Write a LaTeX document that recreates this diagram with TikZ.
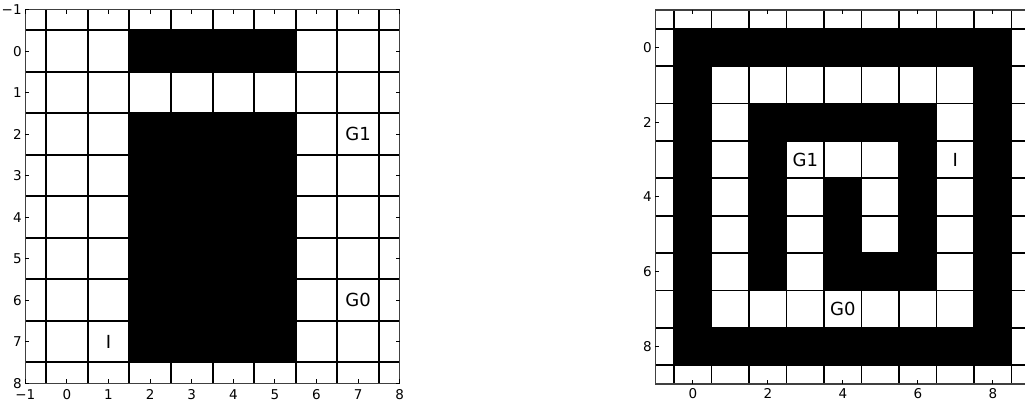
\documentclass[tikz,border=0pt]{standalone}
\usepackage{fontspec}
\setmainfont{DejaVu Sans}
\begin{document}
\begin{tikzpicture}[x=1pt,y=-1pt,
  gridline/.style={line width=2pt,black},
  frameline/.style={line width=1.2pt,black!75},
  tickline/.style={line width=1pt,black},
  ticklab/.style={inner sep=0pt,font=\fontsize{13.5}{14}\selectfont},
  annot/.style={inner sep=0pt,font=\fontsize{18}{20}\selectfont}]
\useasboundingbox[fill=white] (0,0) rectangle (1025,402);
% ---------------- left plot ----------------
\begin{scope}[shift={(66.9pt,-51.2pt)}, x=41.6pt, y=-41.5pt]
  \fill[black] (1.5,-0.5) rectangle (5.5,0.5);
  \fill[black] (1.5,1.5) rectangle (5.5,7.5);
  \foreach \k in {-0.5,0.5,...,7.5} {
    \draw[gridline] (\k,-1) -- (\k,8);
    \draw[gridline] (-1,\k) -- (8,\k);
  }
  \draw[frameline] (-1,-1) rectangle (8,8);
  \foreach \k/\l in {-1/−1,0/0,1/1,2/2,3/3,4/4,5/5,6/6,7/7,8/8} {
    \draw[tickline] (\k,8) -- ++(0pt,4pt);
    \draw[tickline] (\k,-1) -- ++(0pt,-4pt);
    \draw[tickline] (-1,\k) -- ++(4pt,0pt);
    \draw[tickline] (8,\k) -- ++(-4pt,0pt);
    \node[ticklab,anchor=north] (lbx\k) at ([yshift=-6pt]\k,8) {\l};
    \node[ticklab,anchor=east] (lby\k) at ([xshift=-3.5pt]-1,\k) {\l};
  }
  \node[annot] (lg1) at (7,2) {G1};
  \node[annot] (lg0) at (7,6) {G0};
  \node[annot] (li) at (1,7) {I};
\end{scope}
% ---------------- right plot ----------------
\begin{scope}[shift={(692.8pt,-47.3pt)}, x=37.5pt, y=-37.4pt]
  \fill[black] (-0.5,-0.5) rectangle (8.5,0.5);
  \fill[black] (-0.5,7.5) rectangle (8.5,8.5);
  \fill[black] (-0.5,-0.5) rectangle (0.5,8.5);
  \fill[black] (7.5,-0.5) rectangle (8.5,8.5);
  \fill[black] (1.5,1.5) rectangle (6.5,2.5);
  \fill[black] (1.5,1.5) rectangle (2.5,6.5);
  \fill[black] (5.5,1.5) rectangle (6.5,6.5);
  \fill[black] (3.5,3.5) rectangle (4.5,6.5);
  \fill[black] (3.5,5.5) rectangle (6.5,6.5);
  \foreach \k in {-0.5,0.5,...,8.5} {
    \draw[gridline,line width=1.8pt] (\k,-1) -- (\k,9);
    \draw[gridline,line width=1.8pt] (-1,\k) -- (9,\k);
  }
  \draw[frameline] (-1,-1) rectangle (9,9);
  \foreach \k in {0,2,4,6,8} {
    \draw[tickline] (\k,9) -- ++(0pt,4pt);
    \draw[tickline] (\k,-1) -- ++(0pt,-4pt);
    \draw[tickline] (-1,\k) -- ++(4pt,0pt);
    \draw[tickline] (9,\k) -- ++(-4pt,0pt);
    \node[ticklab,anchor=north] (rbx\k) at ([yshift=-4.5pt]\k,9) {\k};
    \node[ticklab,anchor=east] (rby\k) at ([xshift=-3.5pt]-1,\k) {\k};
  }
  \node[annot] (rg1) at (3,3) {G1};
  \node[annot] (ri) at (7,3) {I};
  \node[annot] (rg0) at (4,7) {G0};
\end{scope}
\end{tikzpicture}
\end{document}
